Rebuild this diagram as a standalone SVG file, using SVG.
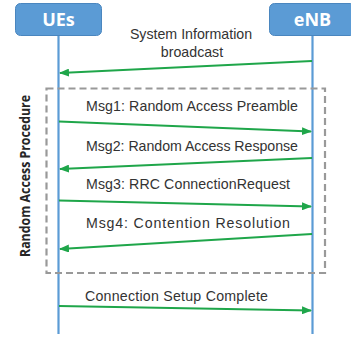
<svg xmlns="http://www.w3.org/2000/svg" width="351" height="339" viewBox="0 0 351 339">
<style>
.box{fill:#5b9bd5;stroke:#4a86bf;stroke-width:1}
.hdr{font-family:"Open Sans","Liberation Sans",sans-serif;font-weight:bold;font-size:18px;fill:#ffffff}
.life{stroke:#5b9bd5;stroke-width:2.2}
.msg{stroke:#1fa64a;stroke-width:2.2;fill:none}
.lbl{font-family:"Liberation Sans",Arial,sans-serif;font-size:14.2px;fill:#333333}
.proc{fill:none;stroke:#999999;stroke-width:2.2;stroke-dasharray:7,4}
.vt{font-family:"Open Sans","Liberation Sans",sans-serif;font-weight:bold;font-size:14.5px;fill:#262626}
</style>
<defs>
<marker id="ah" markerWidth="10" markerHeight="8" refX="9" refY="4" orient="auto" markerUnits="userSpaceOnUse">
<path d="M0,0 L10,4 L0,8 z" fill="#1fa64a"/>
</marker>
</defs>
<g id="ues">
<rect class="box" x="15.5" y="3.5" width="86" height="32" rx="5"/>
<text class="hdr" x="58.5" y="26" text-anchor="middle">UEs</text>
<line class="life" x1="58.5" y1="36" x2="58.5" y2="334"/>
</g>
<g id="enb">
<rect class="box" x="269.5" y="3.5" width="86" height="32" rx="5"/>
<text class="hdr" x="312.5" y="26" text-anchor="middle">eNB</text>
<line class="life" x1="312.5" y1="36" x2="312.5" y2="334"/>
</g>
<g id="procedure">
<rect class="proc" x="46.5" y="88.5" width="278.5" height="184.5"/>
<text class="vt" transform="translate(30,176) rotate(-90)" text-anchor="middle" textLength="162" lengthAdjust="spacingAndGlyphs">Random Access Procedure</text>
</g>
<g id="labels">
<text class="lbl" x="191" y="39" text-anchor="middle">System Information</text>
<text class="lbl" x="192" y="57" text-anchor="middle">broadcast</text>
<text class="lbl" x="86" y="111" textLength="212" lengthAdjust="spacing">Msg1: Random Access Preamble</text>
<text class="lbl" x="86" y="151" textLength="212" lengthAdjust="spacing">Msg2: Random Access Response</text>
<text class="lbl" x="86" y="189" textLength="204" lengthAdjust="spacing">Msg3: RRC ConnectionRequest</text>
<text class="lbl" x="86" y="228" textLength="204" lengthAdjust="spacing">Msg4: Contention Resolution</text>
<text class="lbl" x="85" y="301" textLength="183" lengthAdjust="spacing">Connection Setup Complete</text>
</g>
<g id="connectors">
<line class="msg" x1="312" y1="61" x2="60" y2="73" marker-end="url(#ah)"/>
<line class="msg" x1="59" y1="121.5" x2="311" y2="131.5" marker-end="url(#ah)"/>
<line class="msg" x1="312" y1="158" x2="60" y2="169" marker-end="url(#ah)"/>
<line class="msg" x1="59" y1="200.5" x2="311" y2="206.5" marker-end="url(#ah)"/>
<line class="msg" x1="312" y1="234" x2="60" y2="249" marker-end="url(#ah)"/>
<line class="msg" x1="59" y1="306" x2="311" y2="310.5" marker-end="url(#ah)"/>
</g>
</svg>
